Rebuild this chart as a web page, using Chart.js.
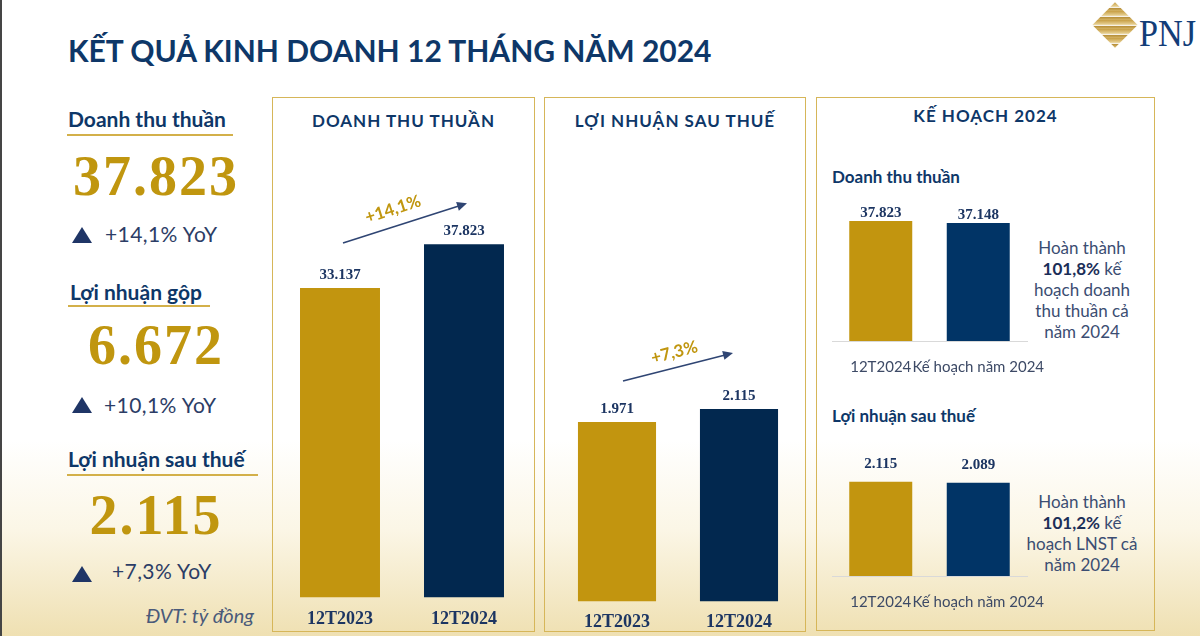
<!DOCTYPE html>
<html>
<head>
<meta charset="utf-8">
<script src="https://cdn.jsdelivr.net/npm/chart.js@4.4.1/dist/chart.umd.min.js"></script>
<style>
html,body{margin:0;padding:0}
body{width:1200px;height:636px;position:relative;overflow:hidden;
  background:linear-gradient(to bottom,#fff 0,#fff 440px,#fbf6e6 530px,#efe0b2 636px);
  font-family:Lato,'Open Sans',sans-serif;color:#0e3768}
.abs{position:absolute;line-height:1;white-space:nowrap}
.edge{position:absolute;left:0;top:0;width:2px;height:636px;background:#454545}
.title{left:68px;top:35px;font-size:30px;font-weight:bold;color:#0e3768}
.head{font-size:21px;font-weight:bold;color:#0e3768}
.uline{position:absolute;height:2px;background:#d3b04a}
.big{left:58px;width:196px;text-align:center;font-family:'Liberation Serif',serif;font-weight:bold;
  font-size:56px;letter-spacing:2px;color:#c0960f}
.tri{position:absolute;width:0;height:0;border-left:10.5px solid transparent;border-right:10.5px solid transparent;border-bottom:16px solid #1f3566}
.yoy{font-size:21px;letter-spacing:0.4px;color:#2c3d66}
.unit{left:146px;top:605px;font-size:20px;font-style:italic;color:#4a5a7a}
.panel{position:absolute;top:97px;height:535px;border:1.5px solid #d6b659;box-sizing:border-box}
.ptitle{font-size:17px;font-weight:bold;letter-spacing:1px;color:#0e3768;text-align:center}
.sub{font-size:17px;font-weight:bold;color:#0e3768}
.note{position:absolute;left:1022px;width:120px;text-align:center;font-size:17px;line-height:21px;color:#3b4d72}
.note b{color:#1b2e58}
.wrap{position:absolute}
.logo{position:absolute;left:1099px;top:9px;width:32px;height:32px;transform:rotate(45deg);
  background:repeating-linear-gradient(135deg,#c9a24a 0,#e6cf92 4px,#fff 5px,#b8913c 6px,#d8b86a 9px)}
.pnj{left:1139px;top:14px;font-family:'Liberation Serif',serif;font-size:38px;color:#123d78;transform:scaleX(0.9);transform-origin:left top}
</style>
</head>
<body>
<div class="edge"></div>
<div class="logo"></div>
<div class="abs pnj">PNJ</div>
<div class="abs title">KẾT QUẢ KINH DOANH 12 THÁNG NĂM 2024</div>

<div class="abs head" style="left:68px;top:108px">Doanh thu thuần</div>
<div class="uline" style="left:67px;top:134px;width:166px"></div>
<div class="abs big" style="top:148px">37.823</div>
<div class="tri" style="left:72px;top:227px"></div>
<div class="abs yoy" style="left:105px;top:223px">+14,1% YoY</div>

<div class="abs head" style="left:70px;top:281px">Lợi nhuận gộp</div>
<div class="uline" style="left:68px;top:305px;width:142px"></div>
<div class="abs big" style="top:317px">6.672</div>
<div class="tri" style="left:72px;top:397px"></div>
<div class="abs yoy" style="left:104px;top:394px">+10,1% YoY</div>

<div class="abs head" style="left:68px;top:448px">Lợi nhuận sau thuế</div>
<div class="uline" style="left:67px;top:474px;width:191px"></div>
<div class="abs big" style="top:487px">2.115</div>
<div class="tri" style="left:72px;top:566px"></div>
<div class="abs yoy" style="left:112px;top:560px">+7,3% YoY</div>
<div class="abs unit">ĐVT: tỷ đồng</div>

<div class="panel" style="left:272px;width:263px"></div>
<div class="panel" style="left:544px;width:262px"></div>
<div class="panel" style="left:816px;width:339px;height:534px"></div>

<div class="abs ptitle" style="left:272px;width:263px;top:112px">DOANH THU THUẦN</div>
<div class="abs ptitle" style="left:544px;width:262px;top:112px">LỢI NHUẬN SAU THUẾ</div>
<div class="abs ptitle" style="left:816px;width:339px;top:107px">KẾ HOẠCH 2024</div>
<div class="abs sub" style="left:832px;top:168px">Doanh thu thuần</div>
<div class="abs sub" style="left:832px;top:407px">Lợi nhuận sau thuế</div>

<div class="note" style="top:237px">Hoàn thành<br><b>101,8%</b> kế<br>hoạch doanh<br>thu thuần cả<br>năm 2024</div>
<div class="note" style="top:491px">Hoàn thành<br><b>101,2%</b> kế<br>hoạch LNST cả<br>năm 2024</div>

<div class="wrap" style="left:272px;top:140px;width:264px;height:501px"><canvas id="c1"></canvas></div>
<div class="wrap" style="left:546px;top:140px;width:262px;height:503px"><canvas id="c2"></canvas></div>
<div class="wrap" style="left:822px;top:195px;width:260px;height:198px"><canvas id="c3"></canvas></div>
<div class="wrap" style="left:822px;top:440px;width:260px;height:188px"><canvas id="c4"></canvas></div>

<script>
// ── Data ──
const yearLabels=['12T2023','12T2024'];
const revenue=[33137,37823];
const profit=[1971,2115];
const planLabels=['12T2024','Kế hoạch năm 2024'];
const revenuePlan=[37823,37148];
const profitPlan=[2115,2089];
const revenueGrowth='+14,1%';
const profitGrowth='+7,3%';

const GOLD='#c2950f', NAVY='#02284f', NAVY2='#013466';

Chart.defaults.font.family='Lato';

function fmt(v){return String(v).replace(/\B(?=(\d{3})+(?!\d))/g,'.');}

// ── Plugins ──
const valueLabels={id:'valueLabels',afterDatasetsDraw(chart,args,o){
  const ctx=chart.ctx, meta=chart.getDatasetMeta(0), vals=chart.data.datasets[0].data;
  ctx.save();
  ctx.font='bold 15px "Liberation Serif"';ctx.fillStyle='#1c3562';
  ctx.textAlign='center';ctx.textBaseline='alphabetic';
  meta.data.forEach((b,i)=>ctx.fillText(fmt(vals[i]),b.x,b.y-o.offset));
  ctx.restore();
}};

const trendArrow={id:'trendArrow',afterDatasetsDraw(chart,args,o){
  if(!o.text)return;
  const ctx=chart.ctx, bars=chart.getDatasetMeta(0).data;
  const x1=bars[0].x+o.fx, y1=bars[0].y+o.fy, x2=bars[1].x+o.tx, y2=bars[1].y+o.ty;
  const a=Math.atan2(y2-y1,x2-x1);
  ctx.save();
  ctx.strokeStyle='#2f4573';ctx.fillStyle='#2f4573';ctx.lineWidth=1.6;
  ctx.beginPath();ctx.moveTo(x1,y1);ctx.lineTo(x2-7*Math.cos(a),y2-7*Math.sin(a));ctx.stroke();
  ctx.translate(x2,y2);ctx.rotate(a);
  ctx.beginPath();ctx.moveTo(0,0);ctx.lineTo(-10,-4.5);ctx.lineTo(-10,4.5);ctx.closePath();ctx.fill();
  ctx.restore();
  ctx.save();
  ctx.translate(x1+(x2-x1)*o.t,y1+(y2-y1)*o.t);ctx.rotate(a);
  ctx.font='bold 17px Lato';ctx.fillStyle='#c0960f';ctx.textAlign='center';ctx.textBaseline='middle';
  ctx.fillText(o.text,0,-o.lift);
  ctx.restore();
}};

function barChart(id,c){
  return new Chart(document.getElementById(id),{
    type:'bar',
    data:{labels:c.labels,datasets:[{data:c.values,backgroundColor:c.colors,borderWidth:0,
      barPercentage:c.bp,categoryPercentage:1}]},
    options:{responsive:true,maintainAspectRatio:false,animation:false,events:[],
      layout:{padding:c.pad},
      plugins:{legend:{display:false},tooltip:{enabled:false},
        valueLabels:{offset:c.labelOffset},
        trendArrow:c.arrow||{}},
      scales:{
        x:{grid:{display:false,drawTicks:false},
           border:{display:!!c.axisLine,color:'#d9d9d9',width:1},
           ticks:{color:c.tickColor,font:c.tickFont,padding:c.tickPad,autoSkip:false,maxRotation:0,minRotation:0}},
        y:{display:false,min:0,max:c.max}}},
    plugins:[valueLabels,trendArrow]});
}

barChart('c1',{labels:yearLabels,values:revenue,colors:[GOLD,NAVY],bp:0.645,max:49000,
  pad:{left:6,right:10,top:0,bottom:0},labelOffset:9,
  tickColor:'#1c3562',tickFont:{family:'Liberation Serif',size:18,weight:'bold'},tickPad:11,
  arrow:{text:revenueGrowth,fx:3,fy:-45,tx:3,ty:-41,t:0.445,lift:17}});

barChart('c2',{labels:yearLabels,values:profit,colors:[GOLD,NAVY],bp:0.64,max:5070,
  pad:{left:10,right:8,top:0,bottom:0},labelOffset:9,
  tickColor:'#1c3562',tickFont:{family:'Liberation Serif',size:18,weight:'bold'},tickPad:10,
  arrow:{text:profitGrowth,fx:6,fy:-41,tx:-6,ty:-56,t:0.5,lift:15}});

barChart('c3',{labels:planLabels,values:revenuePlan,colors:[GOLD,NAVY2],bp:0.646,max:46000,
  pad:{left:10,right:55,top:0,bottom:0},labelOffset:4,axisLine:true,
  tickColor:'#3d4a66',tickFont:{family:'Lato',size:15},tickPad:17});

barChart('c4',{labels:planLabels,values:profitPlan,colors:[GOLD,NAVY2],bp:0.646,max:3050,
  pad:{left:10,right:55,top:0,bottom:0},labelOffset:14,axisLine:true,
  tickColor:'#3d4a66',tickFont:{family:'Lato',size:15},tickPad:17});
</script>
</body>
</html>
